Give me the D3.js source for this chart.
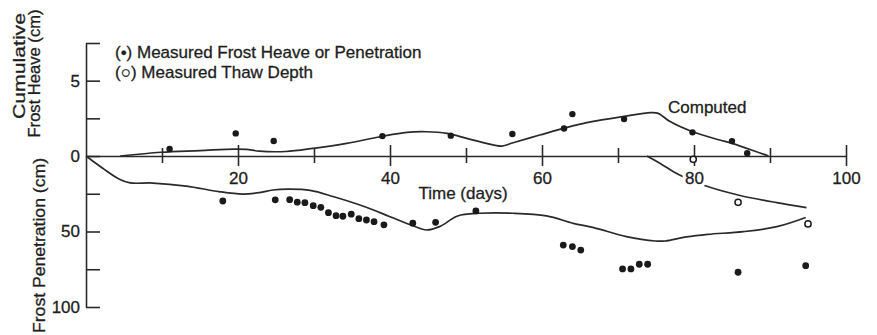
<!DOCTYPE html>
<html>
<head>
<meta charset="utf-8">
<script src="https://cdn.jsdelivr.net/npm/d3@7"></script>
<style>
  html, body { margin: 0; padding: 0; background: #fff; }
  svg { display: block; }
  text { font-family: "Liberation Sans", Arial, sans-serif; fill: #1e1e1e; }
  .ink { stroke: #1e1e1e; stroke-width: 0.3px; }
</style>
</head>
<body>
<svg id="chart" width="877" height="335"></svg>
<script>
// Measured cumulative frost heave (day, cm)
const heaveMeasured = [
  [11, 0.46], [19.7, 1.5], [24.7, 1.0], [39, 1.32], [48, 1.35], [56.1, 1.46],
  [62.9, 1.83], [64, 2.78], [70.8, 2.45], [79.8, 1.57], [85, 0.99], [87, 0.18]
];
// Computed cumulative frost heave (day, cm)
const heaveComputed = [
  [4.5, 0], [9.9, 0.25], [15, 0.36], [19.5, 0.46], [21.1, 0.44], [22.8, 0.32],
  [26.3, 0.3], [29.9, 0.51], [34.3, 0.84], [38.7, 1.28], [42.2, 1.57], [44.8, 1.61],
  [47.5, 1.5], [50.1, 1.17], [52.7, 0.84], [54.7, 0.66], [56.2, 0.88], [59.7, 1.39],
  [63.3, 1.9], [65.9, 2.21], [70.8, 2.63], [74.3, 2.88], [75.3, 2.83], [76.8, 2.3],
  [79.9, 1.59], [83.4, 1.06], [85, 0.84], [89.8, 0]
];
// Measured frost penetration (day, cm)
const penetrationMeasured = [
  [18.0, 29.8], [24.9, 29.0], [26.8, 28.9], [27.8, 30.6], [28.8, 30.9], [29.9, 32.9],
  [30.9, 34.0], [31.9, 37.5], [32.9, 39.5], [33.8, 39.9], [34.9, 38.5], [35.9, 41.5],
  [36.9, 42.4], [37.9, 43.5], [39.2, 45.6], [43.0, 44.5], [46.0, 43.9], [51.3, 36.4],
  [62.8, 59], [64, 60], [65.1, 62.3], [70.6, 74.8], [71.7, 74.8], [72.8, 71.7],
  [73.9, 71.7], [85.8, 77], [94.7, 72.6]
];
// Computed frost penetration (day, cm)
const penetrationComputed = [
  [0, 0], [2.2, 8.1], [4.4, 15.4], [5.8, 17.8], [8.8, 17.9], [13.2, 19.9],
  [17.5, 23.6], [20.6, 25.2], [22.8, 24.3], [24.6, 22.5], [26.8, 22], [29.5, 22.8],
  [32.5, 26.8], [36.7, 33.6], [40, 40.2], [43.1, 46.4], [44.8, 49], [46.6, 46.6],
  [48.9, 39.7], [51.8, 37.9], [56.2, 37.9], [60.6, 39.7], [64.1, 44.6], [66.8, 47.4],
  [71.1, 53.4], [74.9, 56.3], [76.2, 56.3], [79, 53.6], [81.8, 51.9], [86.5, 50.1],
  [90.9, 46.8], [94.7, 40.7]
];
// Measured thaw depth (day, cm)
const thawMeasured = [[79.9, 2.2], [85.8, 30.7], [95, 45]];
// Computed thaw depth (day, cm)
const thawComputed = [
  [73.8, 0], [75.5, 4.8], [77.9, 12.1], [81.2, 19.2], [85.8, 25.8], [90.9, 30.9], [94.8, 34.2]
];

const dayTicks = [10, 20, 30, 40, 50, 60, 70, 80, 90, 100];
const dayLabels = [20, 40, 60, 80, 100];
const heaveTicks = [2.5, 5, 7.5];
const heaveLabels = [5];
const depthTicks = [0, 25, 50, 75, 100];
const depthLabels = [0, 50, 100];

const ink = "#2a2a2a";
const svg = d3.select("#chart");

const x = d3.scaleLinear().domain([0, 100]).range([86, 846]);
const yHeave = d3.scaleLinear().domain([0, 7.5]).range([156, 43]);
const yDepth = d3.scaleLinear().domain([0, 100]).range([156, 307]);

function styleAxis(g) {
  g.attr("font-family", null).attr("font-size", null);
  g.select(".domain").attr("stroke", ink).attr("stroke-width", 1.6);
  g.selectAll(".tick line").attr("stroke", ink).attr("stroke-width", 1.6);
  g.selectAll(".tick text").attr("font-size", 17).attr("fill", "#1e1e1e").attr("class", "ink");
}

// Left axis: heave above zero, penetration below
const gHeave = svg.append("g").attr("transform", `translate(${x(0)},0)`)
  .call(d3.axisLeft(yHeave).tickValues(heaveTicks)
    .tickFormat(d => heaveLabels.includes(d) ? d : "")
    .tickSizeInner(-14).tickSizeOuter(0).tickPadding(6));
styleAxis(gHeave);

const gDepth = svg.append("g").attr("transform", `translate(${x(0)},0)`)
  .call(d3.axisLeft(yDepth).tickValues(depthTicks)
    .tickFormat(d => depthLabels.includes(d) ? d : "")
    .tickSizeInner(-14).tickSizeOuter(0).tickPadding(6));
styleAxis(gDepth);

// Time axis along the zero line, ticks crossing it
const gx = svg.append("g").attr("transform", `translate(0,${yHeave(0)})`)
  .call(d3.axisBottom(x).tickValues(dayTicks)
    .tickFormat(d => dayLabels.includes(d) ? d : "")
    .tickSizeInner(10).tickSizeOuter(0).tickPadding(6));
styleAxis(gx);
gx.selectAll(".tick line")
  .attr("y1", d => dayLabels.includes(d) ? -11 : -8)
  .attr("y2", d => dayLabels.includes(d) ? 10 : 7);

// Curves
const heaveLine = d3.line().x(d => x(d[0])).y(d => yHeave(d[1])).curve(d3.curveCatmullRom.alpha(0.5));
const depthLine = d3.line().x(d => x(d[0])).y(d => yDepth(d[1])).curve(d3.curveCatmullRom.alpha(0.5));

const curves = svg.append("g").attr("fill", "none").attr("stroke", ink).attr("stroke-width", 1.7);
curves.append("path").attr("d", heaveLine(heaveComputed));
curves.append("path").attr("d", depthLine(penetrationComputed));
curves.append("path").attr("d", depthLine(thawComputed));

// Tick labels sit on a white knockout over the curves
gx.raise();
gx.selectAll(".tick text").filter(d => !dayLabels.includes(d)).remove();
gx.selectAll(".tick").filter(d => dayLabels.includes(d))
  .insert("text", "text")
  .attr("y", 16).attr("dy", "0.71em").attr("text-anchor", "middle")
  .attr("font-size", 17).attr("fill", "#fff").attr("stroke", "#fff")
  .attr("stroke-width", 7).attr("stroke-linejoin", "round")
  .text(d => d);

// Points
const pts = svg.append("g");
pts.selectAll("circle.hm").data(heaveMeasured).join("circle")
  .attr("class", "hm").attr("cx", d => x(d[0])).attr("cy", d => yHeave(d[1]))
  .attr("r", 3.2).attr("fill", "#1a1a1a");
pts.selectAll("circle.pm").data(penetrationMeasured).join("circle")
  .attr("class", "pm").attr("cx", d => x(d[0])).attr("cy", d => yDepth(d[1]))
  .attr("r", 3.4).attr("fill", "#1a1a1a");
pts.selectAll("circle.tm").data(thawMeasured).join("circle")
  .attr("class", "tm").attr("cx", d => x(d[0])).attr("cy", d => yDepth(d[1]))
  .attr("r", 3.1).attr("fill", "#fff").attr("stroke", "#1a1a1a").attr("stroke-width", 1.5);

// Text annotations
svg.append("text").attr("class", "ink").attr("x", 463).attr("y", 199).attr("text-anchor", "middle")
  .attr("font-size", 17).text("Time (days)");
svg.append("text").attr("class", "ink").attr("x", 668).attr("y", 112.5).attr("font-size", 17).text("Computed");

const legend = svg.append("g").attr("font-size", 17);
legend.append("text").attr("class", "ink").attr("x", 115).attr("y", 58).text("(•) Measured Frost Heave or Penetration");
legend.append("text").attr("class", "ink").attr("x", 115).attr("y", 78).text("(○) Measured Thaw Depth");

// Axis titles
const titles = [
  { text: "Cumulative", x: 25, y: 66, len: 106 },
  { text: "Frost Heave (cm)", x: 39.5, y: 73.5, len: 128 },
  { text: "Frost Penetration (cm)", x: 45, y: 245.5, len: 175 }
];
svg.append("g").selectAll("text").data(titles).join("text")
  .attr("class", "ink")
  .attr("transform", d => `translate(${d.x},${d.y}) rotate(-90)`)
  .attr("text-anchor", "middle").attr("font-size", 17)
  .attr("textLength", d => d.len).attr("lengthAdjust", "spacingAndGlyphs")
  .text(d => d.text);
</script>
</body>
</html>
